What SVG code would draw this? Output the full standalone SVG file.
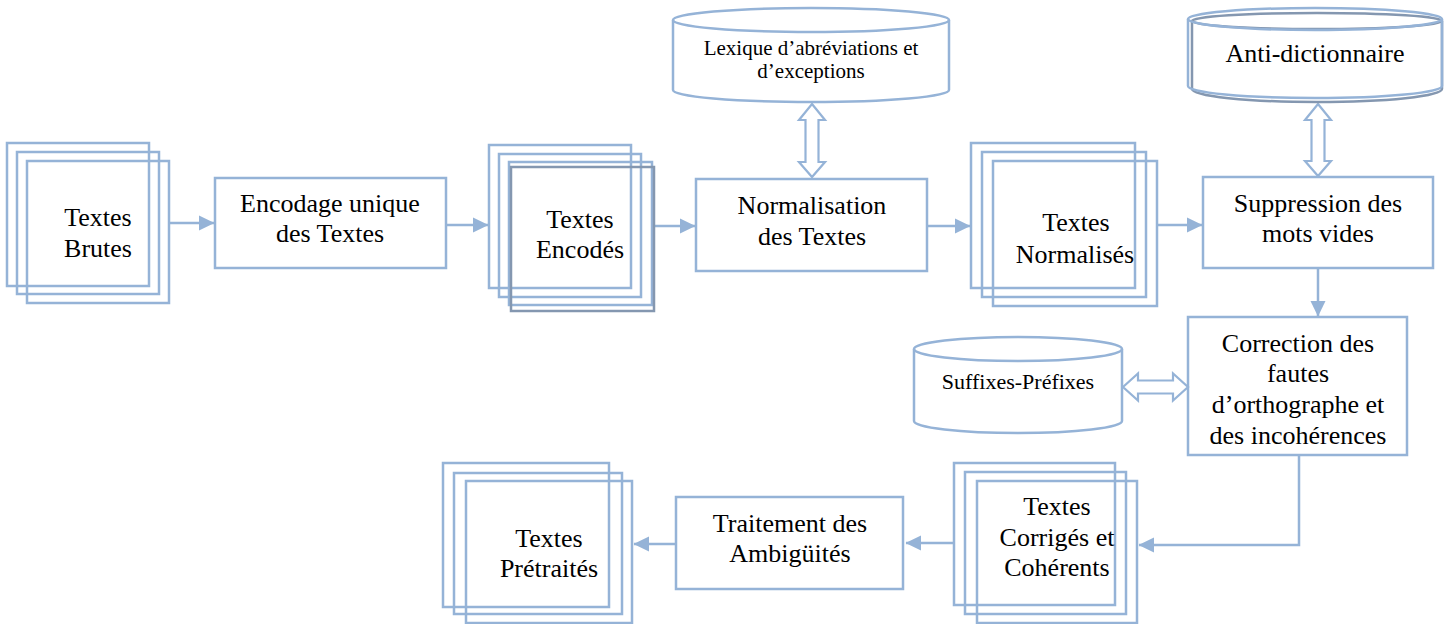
<svg xmlns="http://www.w3.org/2000/svg" width="1450" height="624" viewBox="0 0 1450 624">
<style>
.b{fill:none;stroke:#95b3d7;stroke-width:2.5}
.g{fill:none;stroke:#8497b0;stroke-width:2.5}
.bw{fill:#fff;stroke:#95b3d7;stroke-width:2.5}
.t{font-family:"Liberation Serif","Times New Roman",serif;font-size:26px;fill:#000;text-anchor:middle}
.s{font-size:21px}
.m{font-size:22px}
.c{fill:none;stroke:#95b3d7;stroke-width:2.5}
.da{fill:#fff;stroke:#95b3d7;stroke-width:2.2}
</style>
<defs>
<marker id="ah" viewBox="0 0 16 16" markerWidth="16" markerHeight="16" refX="15" refY="8" orient="auto" markerUnits="userSpaceOnUse">
<path d="M0,0.5 L15.5,8 L0,15.5 Z" fill="#95b3d7"/>
</marker>
</defs>
<rect width="1450" height="624" fill="#fff"/>

<g id="connectors">
<line class="c" x1="170" y1="223" x2="214" y2="223" marker-end="url(#ah)"/>
<line class="c" x1="446" y1="225" x2="488" y2="225" marker-end="url(#ah)"/>
<line class="c" x1="654" y1="226" x2="695" y2="226" marker-end="url(#ah)"/>
<line class="c" x1="927" y1="226" x2="970" y2="226" marker-end="url(#ah)"/>
<line class="c" x1="1157" y1="225" x2="1202" y2="225" marker-end="url(#ah)"/>
<line class="c" x1="1318" y1="268" x2="1318" y2="316" marker-end="url(#ah)"/>
<polyline class="c" points="1299,455 1299,545 1139,545" marker-end="url(#ah)"/>
<line class="c" x1="954" y1="543" x2="906" y2="543" marker-end="url(#ah)"/>
<line class="c" x1="676" y1="544" x2="634" y2="544" marker-end="url(#ah)"/>
<polygon class="da" points="812,104 825,120 818.5,120 818.5,162 825,162 812,177 799,162 805.5,162 805.5,120 799,120"/>
<polygon class="da" points="1318,104 1331,120 1324.5,120 1324.5,161 1331,161 1318,176 1305,161 1311.5,161 1311.5,120 1305,120"/>
<polygon class="da" points="1123,387 1138,373.5 1138,380.5 1173,380.5 1173,373.5 1188,387 1173,400.5 1173,393.5 1138,393.5 1138,400.5"/>
</g>

<g id="textes-brutes">
<rect class="b" x="7" y="143" width="142" height="143"/>
<rect class="b" x="17" y="152" width="142" height="142"/>
<rect class="b" x="27" y="161" width="142" height="142"/>
<text class="t" x="98" y="226">Textes</text>
<text class="t" x="98" y="257">Brutes</text>
</g>

<g id="encodage">
<rect class="b" x="215" y="178" width="231" height="90"/>
<text class="t" x="330" y="212">Encodage unique</text>
<text class="t" x="330" y="242">des Textes</text>
</g>

<g id="textes-encodes">
<rect class="b" x="489" y="145" width="142" height="143"/>
<rect class="b" x="499" y="154" width="142" height="143"/>
<rect class="b" x="509" y="162" width="143" height="143"/>
<rect class="g" x="511" y="167" width="143" height="144"/>
<text class="t" x="580" y="228">Textes</text>
<text class="t" x="580" y="258">Encodés</text>
</g>

<g id="lexique">
<path class="b" d="M673,20 L673,90 A138,12 0 0 0 949,90 L949,20"/>
<ellipse class="b" cx="811" cy="20" rx="138" ry="12"/>
<text class="t s" x="811" y="55">Lexique d’abréviations et</text>
<text class="t s" x="811" y="78">d’exceptions</text>
</g>

<g id="normalisation">
<rect class="b" x="696" y="179" width="231" height="92"/>
<text class="t" x="812" y="214">Normalisation</text>
<text class="t" x="812" y="245">des Textes</text>
</g>

<g id="textes-normalises">
<rect class="b" x="971" y="143" width="164" height="145"/>
<rect class="b" x="982" y="152" width="164" height="145"/>
<rect class="b" x="993" y="161" width="164" height="145"/>
<text class="t" x="1076" y="231">Textes</text>
<text class="t" x="1075" y="263">Normalisés</text>
</g>

<g id="anti-dictionnaire">
<path class="g" d="M1192,21 L1192,89 A125,13 0 0 0 1442,89 L1442,21"/>
<ellipse class="g" cx="1317" cy="21" rx="125" ry="8"/>
<path class="b" d="M1188,19 L1188,86 A127,12 0 0 0 1442,86 L1442,19"/>
<ellipse class="b" cx="1315" cy="19" rx="127" ry="11"/>
<text class="t" x="1315" y="62">Anti-dictionnaire</text>
</g>

<g id="suppression">
<rect class="b" x="1203" y="177" width="230" height="91"/>
<text class="t" x="1318" y="212">Suppression des</text>
<text class="t" x="1318" y="242">mots vides</text>
</g>

<g id="suffixes-prefixes">
<path class="b" d="M914,349 L914,421 A104,12 0 0 0 1122,421 L1122,349"/>
<ellipse class="b" cx="1018" cy="349" rx="104" ry="12"/>
<text class="t m" x="1018" y="389">Suffixes-Préfixes</text>
</g>

<g id="correction">
<rect class="b" x="1188" y="317" width="219" height="138"/>
<text class="t" x="1298" y="352">Correction des</text>
<text class="t" x="1298" y="382">fautes</text>
<text class="t" x="1298" y="413">d’orthographe et</text>
<text class="t" x="1298" y="444">des incohérences</text>
</g>

<g id="textes-corriges">
<rect class="b" x="954" y="463" width="161" height="142"/>
<rect class="b" x="965" y="472" width="161" height="142"/>
<rect class="b" x="977" y="481" width="160" height="142"/>
<text class="t" x="1057" y="515">Textes</text>
<text class="t" x="1057" y="546">Corrigés et</text>
<text class="t" x="1057" y="576">Cohérents</text>
</g>

<g id="traitement">
<rect class="b" x="676" y="497" width="227" height="92"/>
<text class="t" x="790" y="532">Traitement des</text>
<text class="t" x="790" y="562">Ambigüités</text>
</g>

<g id="textes-pretraites">
<rect class="b" x="443" y="463" width="166" height="144"/>
<rect class="b" x="454" y="473" width="168" height="141"/>
<rect class="b" x="466" y="481" width="166" height="142"/>
<text class="t" x="549" y="547">Textes</text>
<text class="t" x="549" y="577">Prétraités</text>
</g>
</svg>
